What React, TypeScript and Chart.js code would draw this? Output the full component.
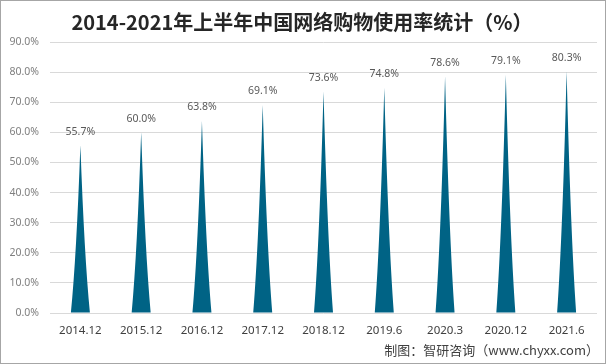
import React, { useEffect, useRef } from "react";
import { Chart, registerables } from "chart.js";

Chart.register(...registerables);

const categories = ["2014.12", "2015.12", "2016.12", "2017.12", "2018.12", "2019.6", "2020.3", "2020.12", "2021.6"];
const usageRate = [55.7, 60.0, 63.8, 69.1, 73.6, 74.8, 78.6, 79.1, 80.3];
const yTicks = [0, 10, 20, 30, 40, 50, 60, 70, 80, 90];
const titleText = "2014-2021年上半年中国网络购物使用率统计（%）";
const footerText = "制图：智研咨询（www.chyxx.com）";

const W = 606;
const H = 364;
const SPIKE = "#006385";

const decorPlugin = {
  id: "decor",
  beforeDraw(chart: any) {
    const ctx = chart.ctx;
    ctx.save();
    ctx.fillStyle = "#ffffff";
    ctx.fillRect(0, 0, W, H);
    ctx.restore();
  },
  afterDatasetsDraw(chart: any) {
    const ctx = chart.ctx;
    const meta = chart.getDatasetMeta(0);
    ctx.save();
    meta.data.forEach((el: any, i: number) => {
      const x = el.x;
      const top = el.y;
      const base = el.base;
      const hw = el.width / 2;
      const h = base - top;
      ctx.beginPath();
      ctx.moveTo(x - hw, base);
      ctx.quadraticCurveTo(x - hw * 0.42, base - h * 0.33, x, top);
      ctx.quadraticCurveTo(x + hw * 0.42, base - h * 0.33, x + hw, base);
      ctx.closePath();
      ctx.fillStyle = SPIKE;
      ctx.fill();
      ctx.font = "10.5px 'Noto Sans', sans-serif";
      ctx.fillStyle = "#595959";
      ctx.textAlign = "center";
      ctx.textBaseline = "middle";
      ctx.fillText(usageRate[i].toFixed(1) + "%", x, top - 13.5);
    });
    ctx.restore();
  },
  afterDraw(chart: any) {
    const ctx = chart.ctx;
    ctx.save();
    ctx.font = "bold 20px 'Noto Sans CJK SC', sans-serif";
    ctx.fillStyle = "#262626";
    ctx.textAlign = "center";
    ctx.textBaseline = "middle";
    ctx.fillText(titleText, 302, 22);
    ctx.font = "13px 'Noto Sans CJK SC', sans-serif";
    ctx.fillStyle = "#404040";
    ctx.textAlign = "right";
    ctx.fillText(footerText, 599, 350);
    ctx.strokeStyle = "#a6a6a6";
    ctx.lineWidth = 1;
    ctx.strokeRect(0.5, 0.5, W - 1, H - 1);
    ctx.restore();
  },
};

export default function App() {
  const ref = useRef<HTMLCanvasElement | null>(null);
  useEffect(() => {
    if (!ref.current) return;
    const chart = new Chart(ref.current, {
      type: "bar",
      data: {
        labels: categories,
        datasets: [
          {
            data: usageRate,
            backgroundColor: "rgba(0,0,0,0)",
            borderWidth: 0,
            categoryPercentage: 1,
            barPercentage: 0.3125,
          },
        ],
      },
      options: {
        responsive: false,
        animation: false,
        devicePixelRatio: 1,
        layout: { padding: { top: 42, right: 9, bottom: 0, left: 0 } },
        plugins: {
          legend: { display: false },
          title: { display: false },
          tooltip: { enabled: false },
        },
        scales: {
          x: {
            grid: { display: false, drawTicks: false },
            border: { display: false },
            ticks: {
              padding: 11,
              color: "#404040",
              font: { family: "'Noto Sans', sans-serif", size: 11.5 },
              maxRotation: 0,
              autoSkip: false,
            },
            afterFit(scale: any) {
              scale.height = 51;
            },
          },
          y: {
            min: 0,
            max: 90,
            grid: { color: "#d9d9d9", drawTicks: false },
            border: { display: false },
            afterBuildTicks(scale: any) {
              scale.ticks = yTicks.map((v) => ({ value: v }));
            },
            ticks: {
              padding: 11,
              color: "#7f7f7f",
              font: { family: "'Noto Sans', sans-serif", size: 10.5 },
              callback: (v: any) => Number(v).toFixed(1) + "%",
            },
            afterFit(scale: any) {
              scale.width = 50;
            },
          },
        },
      },
      plugins: [decorPlugin],
    } as any);
    return () => chart.destroy();
  }, []);
  return (
    <div style={{ position: "fixed", left: 0, top: 0, width: W, height: H, background: "#fff" }}>
      <canvas ref={ref} width={W} height={H} style={{ display: "block", width: W, height: H }} />
    </div>
  );
}
